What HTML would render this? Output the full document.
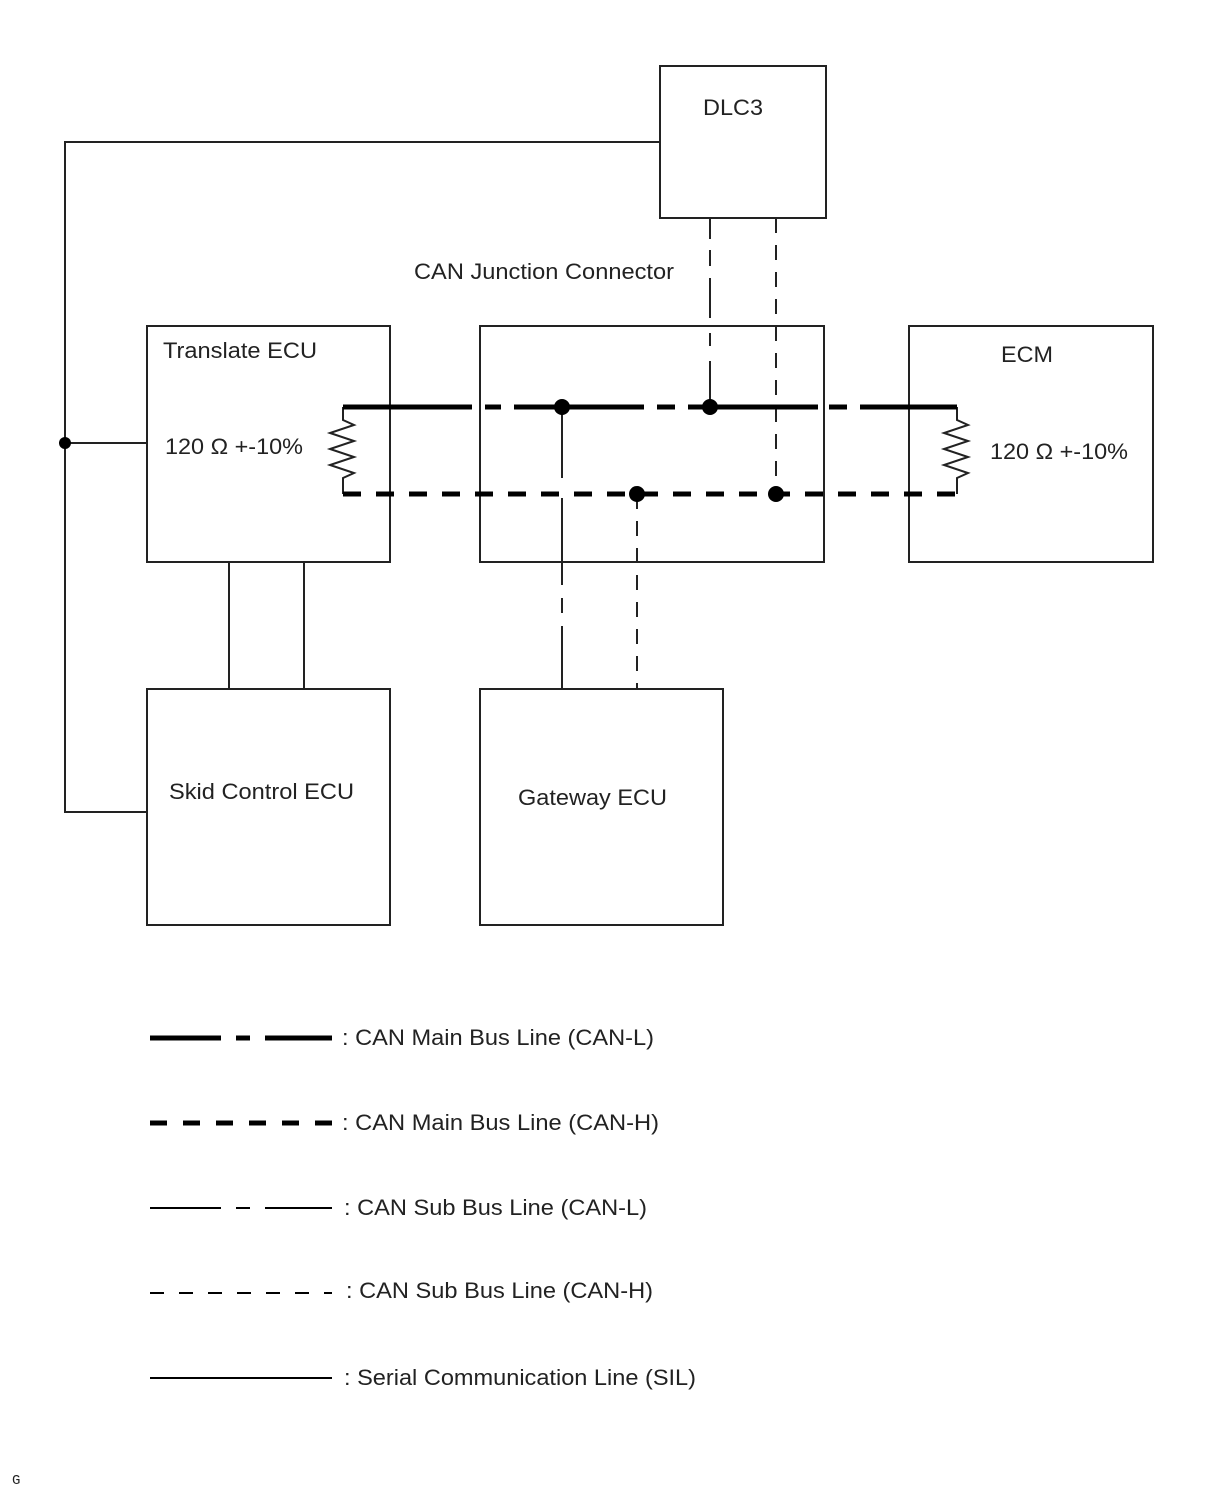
<!DOCTYPE html>
<html><head><meta charset="utf-8"><style>
body{margin:0;background:#fff}
svg{display:block}
text{font-family:"Liberation Sans",Arial,sans-serif;font-size:22px;fill:#222}
</style></head><body>
<svg width="1210" height="1498" viewBox="0 0 1210 1498" xmlns="http://www.w3.org/2000/svg">
<g fill="none" stroke="#222" stroke-width="2">
<rect x="660" y="66" width="166" height="152"/>
<rect x="147" y="326" width="243" height="236"/>
<rect x="480" y="326" width="344" height="236"/>
<rect x="909" y="326" width="244" height="236"/>
<rect x="147" y="689" width="243" height="236"/>
<rect x="480" y="689" width="243" height="236"/>
<!-- SIL -->
<polyline points="660,142 65,142 65,812 147,812"/>
<line x1="65" y1="443" x2="147" y2="443"/>
<line x1="229" y1="562" x2="229" y2="689"/>
<line x1="304" y1="562" x2="304" y2="689"/>
<!-- sub lines -->
<line x1="562" y1="407" x2="562" y2="478"/>
<line x1="562" y1="498" x2="562" y2="585"/>
<line x1="562" y1="598" x2="562" y2="613"/>
<line x1="562" y1="626" x2="562" y2="689"/>
<line x1="710" y1="218" x2="710" y2="239"/>
<line x1="710" y1="250" x2="710" y2="266"/>
<line x1="710" y1="278" x2="710" y2="318"/>
<line x1="710" y1="333" x2="710" y2="346"/>
<line x1="710" y1="361" x2="710" y2="407"/>
<line x1="637" y1="494" x2="637" y2="689" stroke-dasharray="15,12"/>
<line x1="776" y1="218" x2="776" y2="494" stroke-dasharray="15,12"/>
<!-- resistors -->
<polyline points="343,407 343,420 354,425 330,433 354,441 330,449 354,457 330,465 354,473 343,478 343,494"/>
<polyline points="957,407 957,420 968,425 944,433 968,441 944,449 968,457 944,465 968,473 957,478 957,494"/>
</g>
<g stroke="#000" stroke-width="5" fill="none">
<line x1="343" y1="407" x2="472" y2="407"/>
<line x1="485" y1="407" x2="501" y2="407"/>
<line x1="514" y1="407" x2="644" y2="407"/>
<line x1="657" y1="407" x2="675" y2="407"/>
<line x1="688" y1="407" x2="818" y2="407"/>
<line x1="829" y1="407" x2="847" y2="407"/>
<line x1="860" y1="407" x2="957" y2="407"/>
<line x1="343" y1="494" x2="957" y2="494" stroke-dasharray="18,15"/>
</g>
<g fill="#000">
<circle cx="65" cy="443" r="6"/>
<circle cx="562" cy="407" r="8"/>
<circle cx="710" cy="407" r="8"/>
<circle cx="637" cy="494" r="8"/>
<circle cx="776" cy="494" r="8"/>
</g>
<text x="703" y="115" textLength="60" lengthAdjust="spacingAndGlyphs">DLC3</text>
<text x="414" y="279" textLength="260" lengthAdjust="spacingAndGlyphs">CAN Junction Connector</text>
<text x="163" y="358" textLength="154" lengthAdjust="spacingAndGlyphs">Translate ECU</text>
<text x="165" y="454" textLength="138" lengthAdjust="spacingAndGlyphs">120 Ω +-10%</text>
<text x="1001" y="362" textLength="52" lengthAdjust="spacingAndGlyphs">ECM</text>
<text x="990" y="459" textLength="138" lengthAdjust="spacingAndGlyphs">120 Ω +-10%</text>
<text x="169" y="799" textLength="185" lengthAdjust="spacingAndGlyphs">Skid Control ECU</text>
<text x="518" y="805" textLength="149" lengthAdjust="spacingAndGlyphs">Gateway ECU</text>
<!-- legend -->
<g stroke="#000" fill="none">
<line x1="150" y1="1038" x2="221" y2="1038" stroke-width="5"/>
<line x1="236" y1="1038" x2="250" y2="1038" stroke-width="5"/>
<line x1="265" y1="1038" x2="332" y2="1038" stroke-width="5"/>
<line x1="150" y1="1123" x2="332" y2="1123" stroke-width="5" stroke-dasharray="17,16"/>
<line x1="150" y1="1208" x2="221" y2="1208" stroke-width="2"/>
<line x1="236" y1="1208" x2="250" y2="1208" stroke-width="2"/>
<line x1="265" y1="1208" x2="332" y2="1208" stroke-width="2"/>
<line x1="150" y1="1293" x2="332" y2="1293" stroke-width="2" stroke-dasharray="14,15"/>
<line x1="150" y1="1378" x2="332" y2="1378" stroke-width="2"/>
</g>
<text x="342" y="1045" textLength="312" lengthAdjust="spacingAndGlyphs">: CAN Main Bus Line (CAN-L)</text>
<text x="342" y="1130" textLength="317" lengthAdjust="spacingAndGlyphs">: CAN Main Bus Line (CAN-H)</text>
<text x="344" y="1215" textLength="303" lengthAdjust="spacingAndGlyphs">: CAN Sub Bus Line (CAN-L)</text>
<text x="346" y="1298" textLength="307" lengthAdjust="spacingAndGlyphs">: CAN Sub Bus Line (CAN-H)</text>
<text x="344" y="1385" textLength="352" lengthAdjust="spacingAndGlyphs">: Serial Communication Line (SIL)</text>
<text x="12" y="1484" style="font-family:'Liberation Mono',monospace;font-size:14px">G</text>
</svg>
</body></html>
